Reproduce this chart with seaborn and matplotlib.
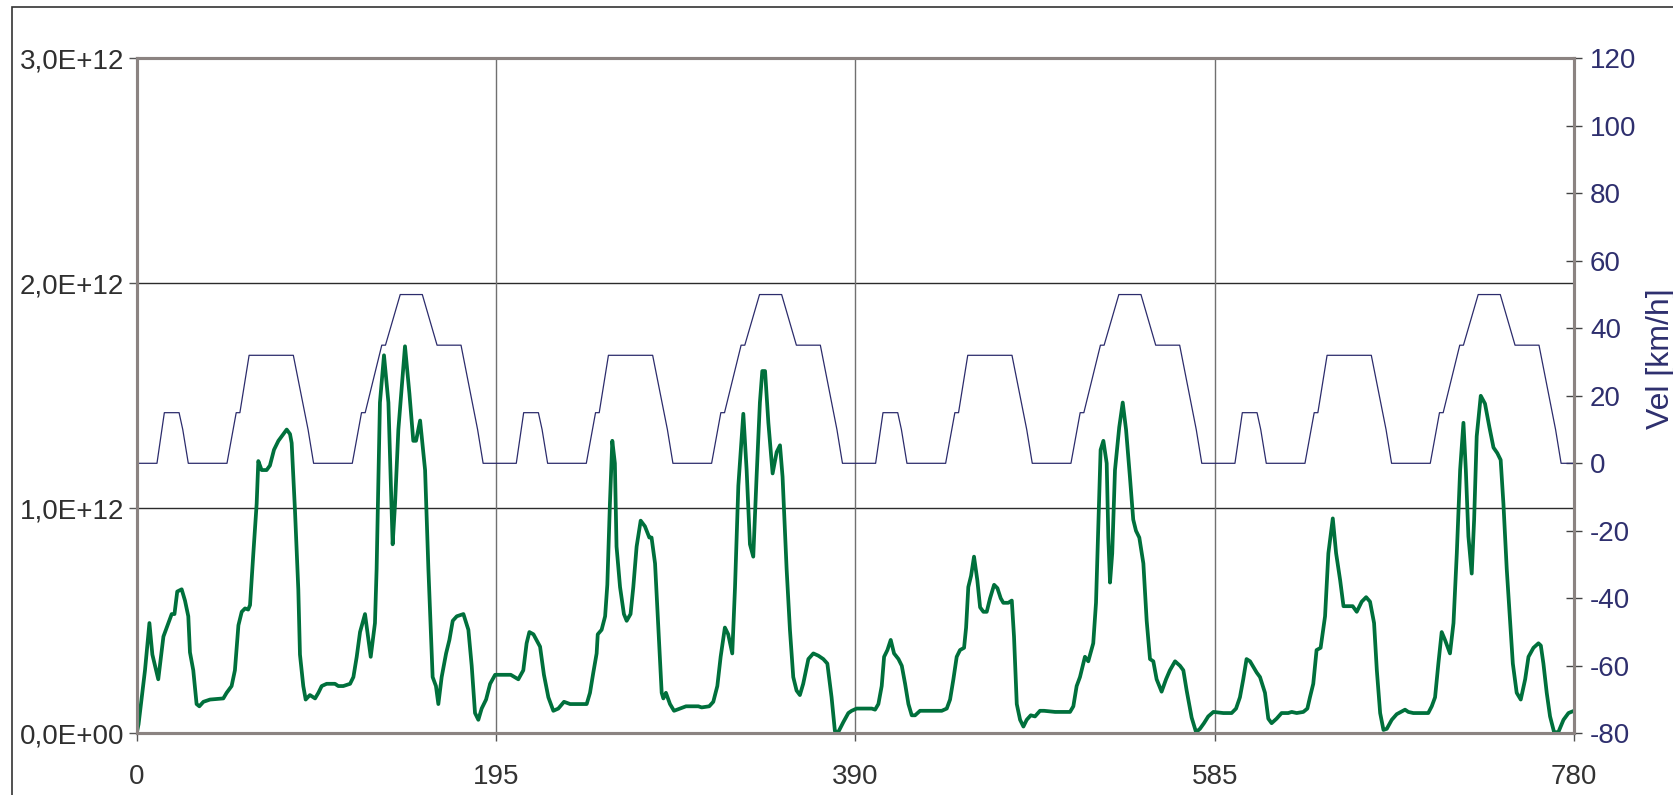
import matplotlib
matplotlib.use("Agg")
import matplotlib.pyplot as plt
import seaborn as sns
from matplotlib.patches import Rectangle
from matplotlib.ticker import FixedLocator, FuncFormatter

# ECE-15 urban driving cycle, one 195 s repetition (time [s], speed [km/h])
cycle_time = [0, 11, 15, 23, 25, 28, 49, 54, 56, 61, 85, 93, 96, 117,
              122, 124, 133, 135, 143, 155, 163, 176, 185, 188]
cycle_speed = [0, 0, 15, 15, 10, 0, 0, 15, 15, 32, 32, 10, 0, 0,
               15, 15, 35, 35, 50, 50, 35, 35, 10, 0]
n_cycles = 4
cycle_length = 195

# Green series, values in units of 1E+12
green_time = [
    0, 1, 4.5, 6.9, 8.5, 11.7, 14.5, 16.3, 19, 20.5, 22, 24.4, 26.2, 28, 28.9,
    30.7, 32.5, 34, 36.2, 39.8, 47, 48.8, 51.5, 53.3, 55.2, 57, 58.8, 60.5,
    61.5, 63.3, 65.1, 66, 67.8, 70.5, 72.3, 74.5, 76.9, 79.6, 81.4, 83.2, 84.1,
    85.9, 87.7, 88.6, 90.4, 91.7, 94, 96.8, 98.6, 100.4, 103.1, 107.6, 109.4,
    112.1, 115.8, 117.6, 119.4, 121.2, 123.9, 127, 129.3, 130.2, 132, 134.2,
    136.6, 138.9, 140.2, 142, 145.6, 148, 150.1, 151.6, 153.8, 156.5, 158.3,
    160.6, 162.4, 163.7, 165.5, 167.9, 169.7, 171.5, 173.7, 177.3, 180, 181.8,
    183.6, 185.4, 187.2, 189.6, 191.8, 194.5, 197.2, 203, 207.1, 209.8, 211.6,
    213.1, 215.3, 218.9, 221, 223.4, 226.1, 228.8, 231.9, 235.2, 244.2, 246,
    247.8, 249.6, 250.2, 252.3, 254.2, 255.4, 256.8, 258.1, 259.5, 260.4,
    262.3, 264.4, 265.9, 268, 269.5, 271.3, 273.5, 275.8, 278.2, 279.4, 281.3,
    283.1, 284.9, 285.8, 287.2, 289.4, 291.6, 294.8, 298.1, 304.8, 306.6,
    310.7, 312.9, 315.1, 316.9, 319.2, 321, 323.2, 324.7, 326.5, 329.2, 331,
    332.8, 334.6, 336.4, 338.2, 339.5, 341, 342.8, 345.1, 347.3, 349.1, 350.5,
    352.7, 354.5, 356.3, 358.1, 359.9, 361.7, 364.5, 367.2, 369.9, 372.6,
    374.8, 377.1, 378.9, 380.7, 383.5, 386.2, 388, 390.7, 398.9, 400.7, 402.5,
    404.3, 405.6, 407.4, 409.2, 411, 413.4, 415.2, 417, 418.8, 420.6, 422.4,
    425.1, 436.9, 439.6, 441.4, 443.2, 445, 446.8, 449, 450.1, 451.3, 452.8,
    454.4, 456.2, 457.7, 459.5, 461.3, 463.1, 465.3, 467.1, 468.9, 470.3, 473,
    474.9, 476.1, 477.6, 479.4, 481.2, 483, 485.2, 487.5, 490.2, 492.4, 498.4,
    506.5, 508.3, 510.1, 511.9, 514.6, 516.4, 519.1, 520.6, 521.8, 523.1,
    524.6, 526.4, 527.3, 528.2, 529.4, 530.9, 533.2, 535.1, 536.9, 539, 540.8,
    542.3, 544.1, 546.3, 548.1, 549.9, 551.7, 553.5, 556.2, 558.6, 560.7,
    563.5, 566.2, 568, 569.8, 572.5, 574.9, 577, 579.2, 581.5, 584.3, 589.7,
    594.2, 596.6, 598.7, 600.5, 602.3, 604.2, 606, 607.8, 609.6, 612.3, 614.1,
    615.9, 618.6, 621.3, 624.9, 626.8, 629.5, 633.1, 635.3, 636.7, 638.5,
    640.3, 642.5, 644.9, 646.7, 649.1, 650.9, 653.1, 654.9, 657.6, 659.9,
    662.1, 664.8, 667.2, 669.3, 671.5, 673, 674.8, 676.6, 678.4, 681.1, 683.8,
    688.3, 690.1, 692.8, 700.9, 702.8, 704.6, 706.4, 708.2, 710, 712.7, 714.6,
    716.4, 718.2, 720, 721.3, 722.7, 724.5, 725.8, 727.2, 729.4, 731.7, 734.1,
    736.3, 738.4, 740.2, 741.7, 743.5, 745.3, 746.8, 748.9, 751.1, 753.5,
    755.3, 758, 760.7, 762, 763.4, 765.2, 767, 769.2, 771.5, 774.3, 777, 780,
]
green_value = [
    0.00, 0.04, 0.28, 0.49, 0.35, 0.24, 0.43, 0.47, 0.53, 0.53, 0.63, 0.64,
    0.59, 0.52, 0.36, 0.28, 0.13, 0.12, 0.14, 0.15, 0.155, 0.18, 0.21, 0.28,
    0.48, 0.54, 0.555, 0.55, 0.57, 0.80, 1.02, 1.21, 1.17, 1.17, 1.19, 1.26,
    1.30, 1.33, 1.35, 1.33, 1.29, 0.99, 0.64, 0.35, 0.21, 0.15, 0.17, 0.155,
    0.18, 0.21, 0.22, 0.22, 0.21, 0.21, 0.22, 0.25, 0.34, 0.45, 0.53, 0.34,
    0.49, 0.73, 1.47, 1.68, 1.47, 0.84, 1.02, 1.35, 1.72, 1.51, 1.30, 1.30,
    1.39, 1.17, 0.73, 0.25, 0.21, 0.13, 0.25, 0.355, 0.415, 0.50, 0.52, 0.53,
    0.46, 0.30, 0.09, 0.06, 0.11, 0.15, 0.22, 0.26, 0.26, 0.26, 0.24, 0.28,
    0.40, 0.45, 0.44, 0.385, 0.26, 0.16, 0.10, 0.11, 0.14, 0.13, 0.13, 0.18,
    0.27, 0.355, 0.44, 0.46, 0.52, 0.66, 1.02, 1.30, 1.20, 0.83, 0.65, 0.53,
    0.50, 0.53, 0.65, 0.83, 0.945, 0.92, 0.87, 0.87, 0.755, 0.47, 0.18, 0.155,
    0.18, 0.13, 0.10, 0.11, 0.12, 0.12, 0.115, 0.12, 0.14, 0.21, 0.34, 0.47,
    0.44, 0.355, 0.65, 1.10, 1.42, 1.17, 0.84, 0.785, 1.14, 1.47, 1.61, 1.61,
    1.38, 1.155, 1.25, 1.28, 1.14, 0.73, 0.46, 0.25, 0.19, 0.17, 0.22, 0.33,
    0.355, 0.345, 0.33, 0.31, 0.16, 0.01, 0.005, 0.05, 0.09, 0.10, 0.11, 0.11,
    0.105, 0.13, 0.21, 0.34, 0.37, 0.415, 0.355, 0.33, 0.30, 0.22, 0.13, 0.08,
    0.08, 0.10, 0.10, 0.11, 0.15, 0.24, 0.34, 0.37, 0.38, 0.47, 0.65, 0.70,
    0.785, 0.68, 0.56, 0.54, 0.54, 0.60, 0.66, 0.645, 0.60, 0.58, 0.58, 0.59,
    0.43, 0.13, 0.06, 0.03, 0.06, 0.08, 0.075, 0.10, 0.10, 0.095, 0.095, 0.12,
    0.21, 0.25, 0.34, 0.32, 0.40, 0.58, 0.90, 1.26, 1.30, 1.20, 0.87, 0.67,
    0.80, 1.17, 1.36, 1.47, 1.35, 1.14, 0.95, 0.90, 0.87, 0.755, 0.50, 0.33,
    0.32, 0.24, 0.185, 0.24, 0.28, 0.32, 0.30, 0.28, 0.19, 0.07, 0.005, 0.02,
    0.045, 0.075, 0.095, 0.09, 0.09, 0.11, 0.16, 0.24, 0.33, 0.32, 0.295,
    0.27, 0.25, 0.18, 0.065, 0.045, 0.065, 0.09, 0.09, 0.095, 0.09, 0.095,
    0.11, 0.16, 0.22, 0.37, 0.38, 0.52, 0.80, 0.955, 0.80, 0.68, 0.565, 0.565,
    0.565, 0.54, 0.585, 0.605, 0.585, 0.49, 0.28, 0.09, 0.015, 0.02, 0.06,
    0.085, 0.105, 0.095, 0.09, 0.09, 0.12, 0.16, 0.31, 0.45, 0.415, 0.355,
    0.49, 0.80, 1.17, 1.38, 1.17, 0.875, 0.71, 0.95, 1.32, 1.50, 1.465, 1.36,
    1.27, 1.245, 1.215, 1.02, 0.73, 0.50, 0.31, 0.18, 0.15, 0.24, 0.34, 0.38,
    0.40, 0.39, 0.31, 0.18, 0.075, 0.005, 0.005, 0.06, 0.09, 0.10,
]

x_ticks = [0, 195, 390, 585, 780]
left_ticks = [0.0, 1.0e12, 2.0e12, 3.0e12]
right_ticks = [-80, -60, -40, -20, 0, 20, 40, 60, 80, 100, 120]
right_label = "Vel [km/h]"

# Repeat the urban cycle to build the full speed trace
vel_time, vel_speed = [], []
for k in range(n_cycles):
    vel_time += [t + k * cycle_length for t in cycle_time]
    vel_speed += cycle_speed
vel_time.append(n_cycles * cycle_length)
vel_speed.append(0)

green_scaled = [v * 1e12 for v in green_value]

sns.set_theme(style="white")
plt.rcParams["font.family"] = ["Liberation Sans", "DejaVu Sans"]
plt.rcParams["axes.unicode_minus"] = False

W, H = 1673, 795
fig = plt.figure(figsize=(W / 100, H / 100), dpi=100)
fig.patch.set_facecolor("white")

x0, x1, y_top, y_bot = 136.7, 1574.0, 58.3, 733.3
ax = fig.add_axes([x0 / W, 1 - y_bot / H, (x1 - x0) / W, (y_bot - y_top) / H])
ax.set_facecolor("white")

sns.lineplot(x=green_time, y=green_scaled, ax=ax, color="#00703c",
             linewidth=2.7, estimator=None, sort=False, zorder=3,
             solid_joinstyle="round", solid_capstyle="round")

ax2 = ax.twinx()
sns.lineplot(x=vel_time, y=vel_speed, ax=ax2, color="#2c2c6c",
             linewidth=0.9, estimator=None, sort=False, zorder=2)

ax.set_xlim(0, 780)
ax.set_ylim(0, 3.0e12)
ax2.set_ylim(-80, 120)

ax.xaxis.set_major_locator(FixedLocator(x_ticks))
ax.yaxis.set_major_locator(FixedLocator(left_ticks))
ax.yaxis.set_major_formatter(
    FuncFormatter(lambda v, _: f"{v:.1E}".replace(".", ",")))
ax2.yaxis.set_major_locator(FixedLocator(right_ticks))

ax.set_xlabel("")
ax.set_ylabel("")
ax2.set_ylabel("")

# Grid: dark horizontal lines, grey vertical lines
ax.grid(False)
ax2.grid(False)
for v in left_ticks[1:]:
    ax.axhline(v, color="#2b2b2b", linewidth=1.0, zorder=1)
for v in x_ticks[1:-1]:
    ax.axvline(v, color="#707070", linewidth=1.0, zorder=1)

spine_color = "#8b8381"
for a in (ax, ax2):
    for s in a.spines.values():
        s.set_visible(True)
        s.set_color(spine_color)
        s.set_linewidth(2.2)
        s.set_zorder(5)

ax.tick_params(axis="x", which="major", direction="out", length=6, width=1,
               color="#555555", labelsize=20, labelcolor="#333333", pad=16,
               bottom=True, top=False)
ax.tick_params(axis="y", which="major", direction="out", length=6, width=1,
               color="#555555", labelsize=20, labelcolor="#2f2f2f", pad=3,
               left=True, right=False)
ax2.tick_params(axis="y", which="major", direction="inout", length=11,
                width=1, color="#444444", labelsize=20, labelcolor="#2e2f6e",
                pad=6, right=True, left=False)

fig.text(1661 / W, 1 - 359 / H, right_label, rotation=90, ha="center",
         va="center", fontsize=23, color="#2e2f6e")

# Chart-area border
fig.add_artist(Rectangle((12 / W, -0.05), 1.2, 1.05 - 7 / H,
                         transform=fig.transFigure, fill=False,
                         edgecolor="#333333", linewidth=1.2))

fig.savefig("out.png", dpi=100, facecolor="white")
